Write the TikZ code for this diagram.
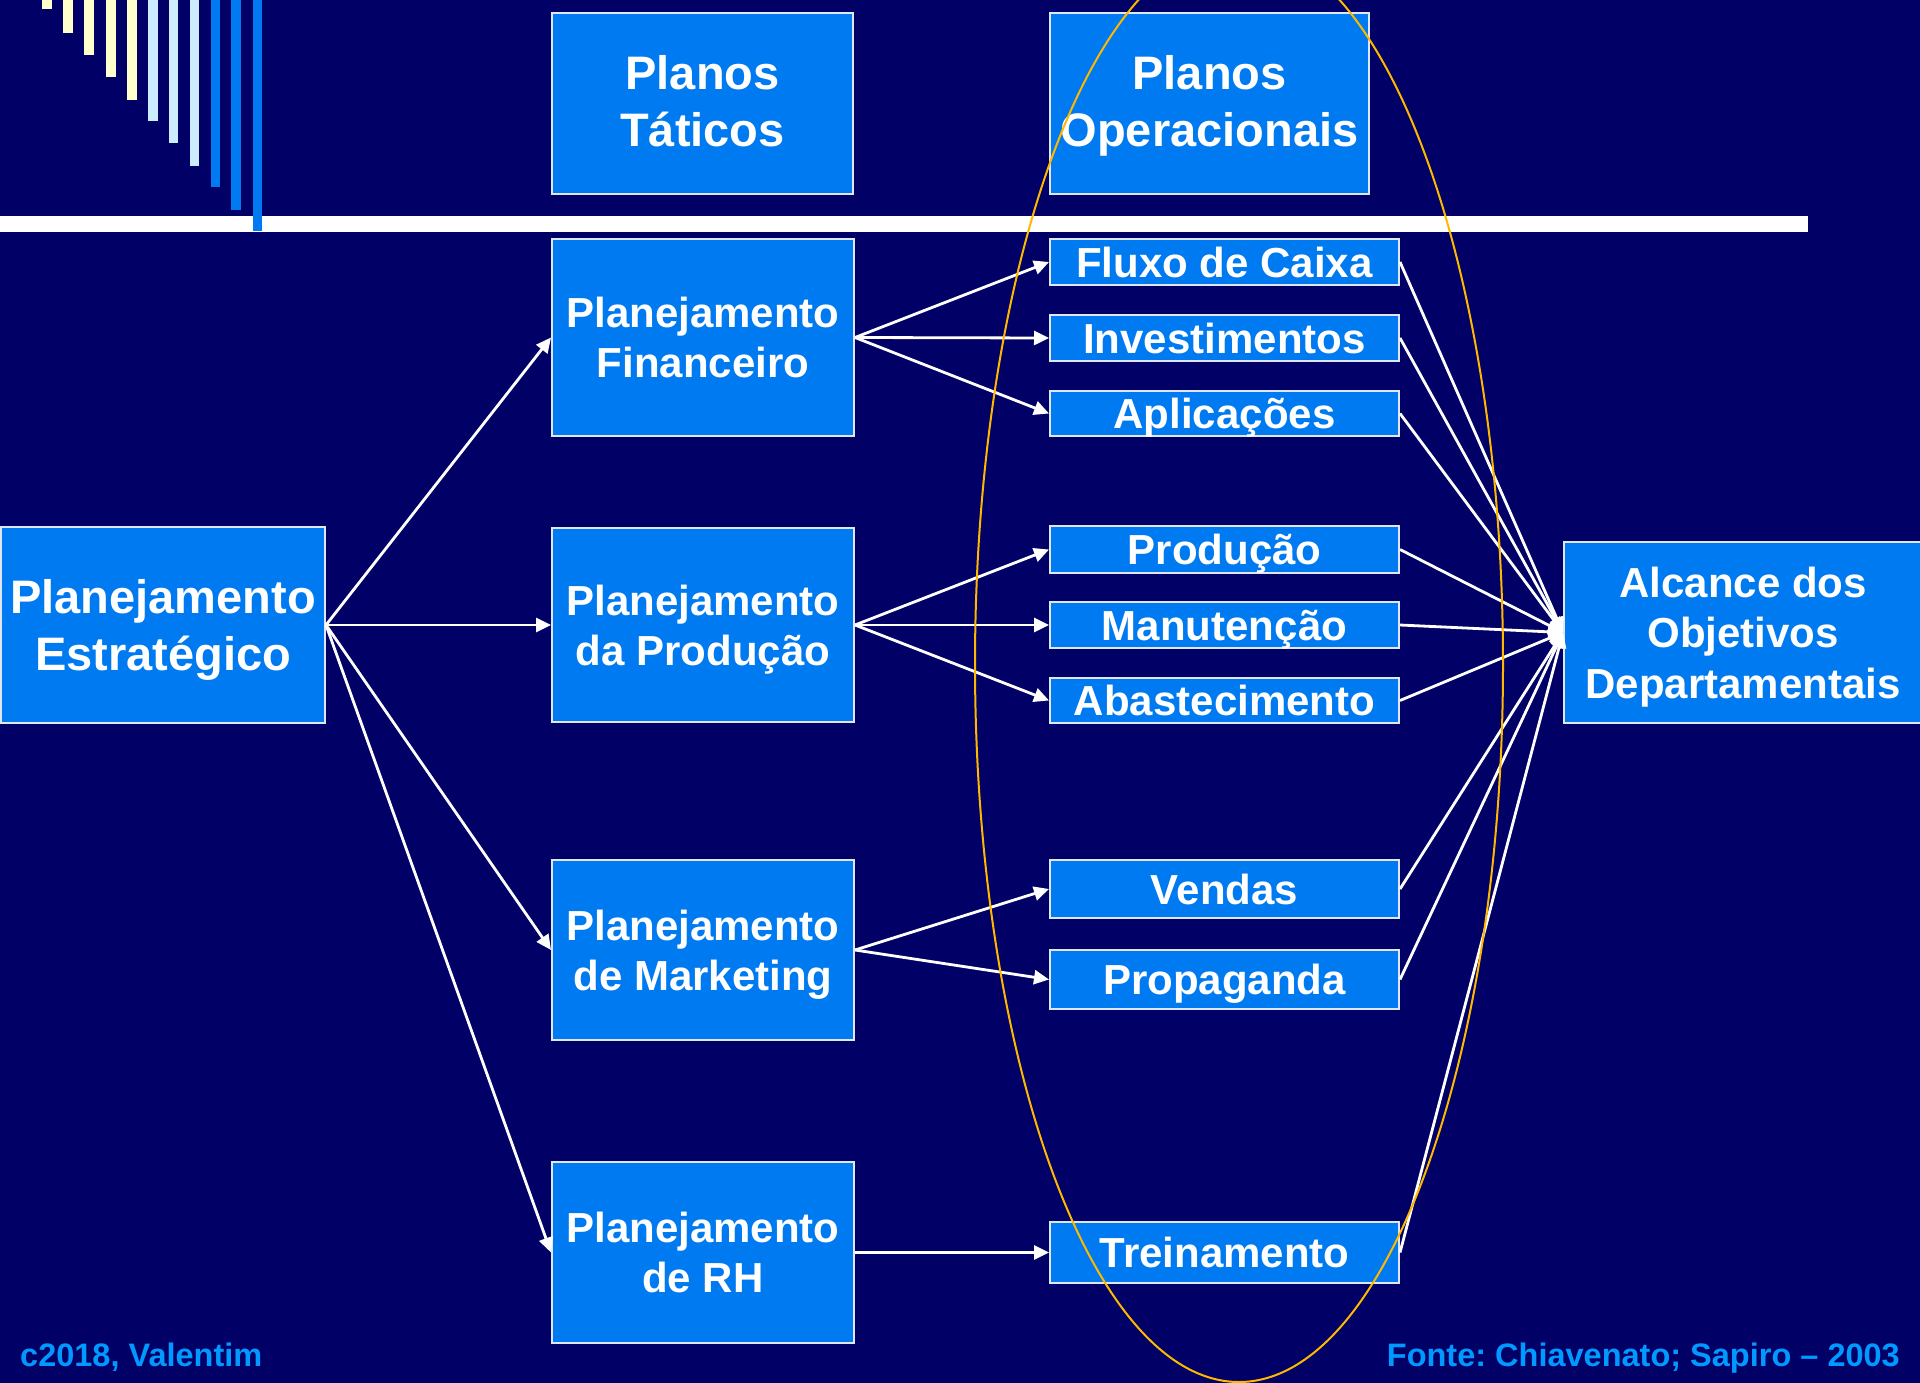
\documentclass[tikz,border=0pt]{standalone}
\usepackage{fontspec}
\setmainfont{Liberation Sans}
\usetikzlibrary{arrows.meta}
\frenchspacing
\definecolor{bgnavy}{RGB}{0,0,102}
\definecolor{boxblue}{RGB}{0,122,240}
\definecolor{barlight}{RGB}{204,236,255}
\definecolor{baryellow}{RGB}{255,255,204}
\definecolor{footblue}{RGB}{0,153,255}
\definecolor{ellgold}{RGB}{255,184,0}
\definecolor{boxedge}{RGB}{225,230,245}
\newcommand\nodp[1]{\raisebox{0pt}[\height][0pt]{#1}}
\newcommand\xdp[1]{\raisebox{0pt}[\height][5pt]{#1}}
\begin{document}
\begin{tikzpicture}[x=1pt,y=-1pt,
  bx/.style={draw=boxedge, line width=2pt, fill=boxblue, text=white,
    font=\bfseries\fontsize{42}{50.4}\selectfont, align=center, inner sep=0pt},
  bigtxt/.style={font=\bfseries\fontsize{47}{57}\selectfont},
  opbx/.style={bx, minimum width=349pt, text height=30pt, text depth=0pt},
  conn/.style={draw=white, line width=2.8pt, -{Triangle[length=15pt,width=14pt]}},
  foot/.style={text=footblue, font=\bfseries\fontsize{32.5}{39}\selectfont, inner sep=0pt}]
\fill[bgnavy] (0,0) rectangle (1920,1383);
\clip (0,0) rectangle (1920,1383);
\useasboundingbox (0,0) rectangle (1920,1383);
% decorative bars
\fill[baryellow] (42,0) rectangle (52,9);
\fill[baryellow] (63,0) rectangle (73,33);
\fill[baryellow] (84,0) rectangle (94,55);
\fill[baryellow] (106,0) rectangle (116,77);
\fill[baryellow] (127,0) rectangle (137,100);
\fill[barlight] (148,0) rectangle (158,121);
\fill[barlight] (169,0) rectangle (178,143);
\fill[barlight] (190,0) rectangle (199,166);
\fill[boxblue] (211,0) rectangle (220,187);
\fill[boxblue] (231,0) rectangle (241,210);
\fill[white] (0,216) rectangle (1808,232);
\fill[boxblue] (253,0) rectangle (262,231);
% header boxes
\node[bx, bigtxt, minimum width=301pt, minimum height=181pt] (tat) at (702.5,103.5) {Planos\\\xdp{T\'aticos}};
\node[bx, bigtxt, minimum width=319pt, minimum height=181pt] (oper) at (1209.5,103.5) {Planos\\\xdp{Operacionais}};
% strategic
\node[bx, bigtxt, minimum width=324pt, minimum height=196pt] (est) at (163,625) {Planejamento\\\nodp{Estrat\'egico}};
% tactical
\node[bx, minimum width=302pt, minimum height=197pt] (fin) at (703,337.5) {Planejamento\\Financeiro};
\node[bx, minimum width=302pt, minimum height=194pt] (prod) at (703,625) {Planejamento\\\nodp{da Produ\c{c}\~ao}};
\node[bx, minimum width=302pt, minimum height=180pt] (mkt) at (703,950) {Planejamento\\\nodp{de Marketing}};
\node[bx, minimum width=302pt, minimum height=181pt] (rh) at (703,1252.5) {Planejamento\\de RH};
% operational
\node[opbx, minimum height=46pt] (fluxo) at (1224.5,262) {Fluxo de Caixa};
\node[opbx, minimum height=46pt] (inv) at (1224.5,338) {Investimentos};
\node[opbx, minimum height=45pt] (apl) at (1224.5,413.5) {Aplica\c{c}\~oes};
\node[opbx, minimum height=47pt] (prodop) at (1224.5,549.5) {Produ\c{c}\~ao};
\node[opbx, minimum height=46pt] (man) at (1224.5,625) {Manuten\c{c}\~ao};
\node[opbx, minimum height=45pt] (abs) at (1224.5,700.5) {Abastecimento};
\node[opbx, minimum height=58pt] (vend) at (1224.5,889) {Vendas};
\node[opbx, minimum height=59pt] (prop) at (1224.5,979.5) {Propaganda};
\node[opbx, minimum height=61pt] (trein) at (1224.5,1252.5) {Treinamento};
% goal
\node[bx, minimum width=358pt, minimum height=181pt] (alc) at (1743,632.5) {Alcance dos\\Objetivos\\\nodp{Departamentais}};
% connectors
\foreach \t in {fin,prod,mkt,rh} \draw[conn] (est.east) -- (\t.west);
\foreach \t in {fluxo,inv,apl} \draw[conn] (fin.east) -- (\t.west);
\foreach \t in {prodop,man,abs} \draw[conn] (prod.east) -- (\t.west);
\foreach \t in {vend,prop} \draw[conn] (mkt.east) -- (\t.west);
\draw[conn] (rh.east) -- (trein.west);
\foreach \s in {fluxo,inv,apl,prodop,man,abs,vend,prop,trein} \draw[conn] (\s.east) -- (alc.west);
% ellipse
\draw[ellgold, line width=2pt] (1239,664) ellipse [x radius=264pt, y radius=718pt];
% footers
\node[foot, anchor=base west] (copy) at (20,1366) {c2018, Valentim};
\node[foot, anchor=base east] (fonte) at (1900,1366) {Fonte: Chiavenato; Sapiro – 2003};
\end{tikzpicture}
\end{document}
